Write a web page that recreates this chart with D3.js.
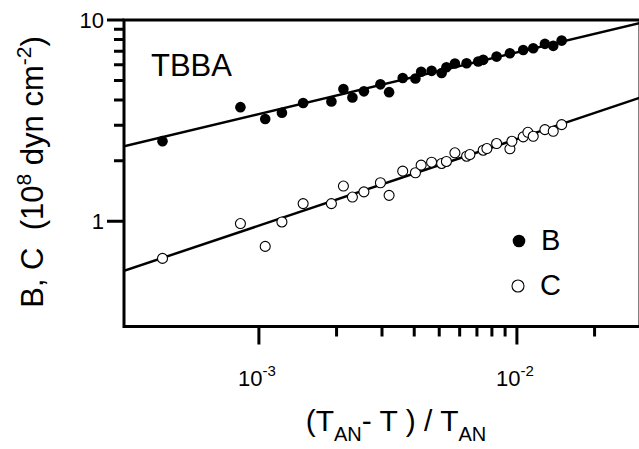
<!DOCTYPE html>
<html>
<head>
<meta charset="utf-8">
<script src="https://cdn.jsdelivr.net/npm/d3@7"></script>
<style>
  html, body { margin: 0; padding: 0; background: #fff; }
  svg { display: block; }
  text { font-family: "Liberation Sans", Arial, sans-serif; fill: #000; white-space: pre; }
</style>
</head>
<body>
<svg id="chart" width="639" height="449"></svg>
<script>
// ---- data ----
const reducedT = [4.23e-4, 8.48e-4, 1.058e-3, 1.228e-3, 1.484e-3, 1.910e-3, 2.126e-3, 2.304e-3, 2.553e-3, 2.958e-3,
                  3.196e-3, 3.609e-3, 4.043e-3, 4.254e-3, 4.670e-3, 5.108e-3, 5.331e-3, 5.750e-3, 6.383e-3, 7.079e-3,
                  7.402e-3, 8.343e-3, 9.395e-3, 1.058e-2, 1.157e-2, 1.284e-2, 1.383e-2, 1.491e-2];
const valuesB = [2.50, 3.69, 3.22, 3.46, 3.87, 3.94, 4.54, 4.12, 4.42, 4.79,
                 4.38, 5.15, 5.12, 5.53, 5.59, 5.45, 5.82, 6.08, 6.10, 6.22,
                 6.34, 6.58, 6.84, 7.10, 7.24, 7.61, 7.44, 7.90];
const reducedTC = [4.23e-4, 8.48e-4, 1.058e-3, 1.228e-3, 1.484e-3, 1.910e-3, 2.126e-3, 2.304e-3, 2.553e-3, 2.958e-3,
                   3.196e-3, 3.609e-3, 4.043e-3, 4.254e-3, 4.670e-3, 5.108e-3, 5.331e-3, 5.750e-3, 6.383e-3, 6.574e-3,
                   7.402e-3, 7.650e-3, 8.343e-3, 9.395e-3, 9.564e-3, 1.058e-2, 1.103e-2, 1.157e-2, 1.284e-2, 1.383e-2, 1.491e-2];
const valuesC = [0.654, 0.974, 0.750, 0.992, 1.224, 1.224, 1.496, 1.319, 1.400, 1.554,
                 1.345, 1.774, 1.742, 1.900, 1.966, 1.937, 1.982, 2.188, 2.105, 2.146,
                 2.254, 2.298, 2.433, 2.291, 2.497, 2.626, 2.767, 2.644, 2.853, 2.800, 3.021];
// fitted power-law lines, as [x, y] end points
const fitB = [[3e-4, 2.36], [3e-2, 9.66]];
const fitC = [[3e-4, 0.567], [3e-2, 4.11]];
const xMajorTicks = [1e-3, 1e-2];
const xMajorExp = ["-3", "-2"];
const xMinorTicks = [2e-3, 3e-3, 4e-3, 5e-3, 6e-3, 7e-3, 8e-3, 9e-3, 2e-2];
const yMajorTicks = [1, 10];
const yMajorLabels = ["1", "10"];
const yMinorTicks = [2, 3, 4, 5, 6, 7, 8, 9];
const seriesNames = ["B", "C"];

// ---- layout ----
const svg = d3.select("#chart");
const x = d3.scaleLog().domain([3e-4, 3e-2]).range([124, 640]);
const y = d3.scaleLog().domain([0.3, 10]).range([326.5, 20]);
const LW = 3;
const x0 = x.range()[0], yb = y.range()[0];

// frame
svg.append("rect")
  .attr("x", x0).attr("y", y.range()[1])
  .attr("width", x.range()[1] - x0)
  .attr("height", yb - y.range()[1])
  .attr("fill", "none").attr("stroke", "#000").attr("stroke-width", LW);

// ticks (drawn from the tick arrays through the scales)
const tickPath = [];
xMajorTicks.forEach(v => tickPath.push(`M${x(v)},${yb}V${yb + 18}`));
xMinorTicks.forEach(v => tickPath.push(`M${x(v)},${yb}V${yb + 10}`));
yMajorTicks.forEach(v => tickPath.push(`M${x0},${y(v)}H${x0 - 17}`));
yMinorTicks.forEach(v => tickPath.push(`M${x0},${y(v)}H${x0 - 10}`));
svg.append("path").attr("d", tickPath.join(""))
  .attr("fill", "none").attr("stroke", "#000").attr("stroke-width", LW);

// tick labels
xMajorTicks.forEach((v, i) => {
  const t = svg.append("text").attr("x", x(v) - 2).attr("y", 386)
    .attr("text-anchor", "middle").attr("font-size", 22);
  t.append("tspan").text("10");
  t.append("tspan").attr("dy", -10).attr("font-size", 15).text(xMajorExp[i]);
});
yMajorTicks.forEach((v, i) => {
  svg.append("text").attr("x", 104).attr("y", y(v) + 8)
    .attr("text-anchor", "end").attr("font-size", 22).text(yMajorLabels[i]);
});

// clip for lines
svg.append("clipPath").attr("id", "clip").append("rect")
  .attr("x", x0).attr("y", y.range()[1])
  .attr("width", x.range()[1] - x0)
  .attr("height", yb - y.range()[1]);

const line = d3.line().x(d => x(d[0])).y(d => y(d[1]));
[fitB, fitC].forEach(f => {
  svg.append("path").attr("d", line(f)).attr("clip-path", "url(#clip)")
    .attr("fill", "none").attr("stroke", "#000").attr("stroke-width", 2.5);
});

// points
svg.append("g").selectAll("circle").data(reducedT.map((t, i) => [t, valuesB[i]]))
  .join("circle").attr("cx", d => x(d[0])).attr("cy", d => y(d[1])).attr("r", 5.3)
  .attr("fill", "#000");
svg.append("g").selectAll("circle").data(reducedTC.map((t, i) => [t, valuesC[i]]))
  .join("circle").attr("cx", d => x(d[0])).attr("cy", d => y(d[1])).attr("r", 5)
  .attr("fill", "#fff").attr("stroke", "#000").attr("stroke-width", 1.1);

// label TBBA
svg.append("text").attr("x", 151).attr("y", 76).attr("font-size", 31).text("TBBA");

// legend
svg.append("circle").attr("cx", 519).attr("cy", 241).attr("r", 6.3).attr("fill", "#000");
svg.append("circle").attr("cx", 518).attr("cy", 286).attr("r", 6).attr("fill", "#fff")
  .attr("stroke", "#000").attr("stroke-width", 1.1);
svg.append("text").attr("x", 541).attr("y", 250).attr("font-size", 29).text(seriesNames[0]);
svg.append("text").attr("x", 540).attr("y", 295).attr("font-size", 29).text(seriesNames[1]);

// y-axis title
const yt = svg.append("text").attr("transform", "translate(43,172) rotate(-90)")
  .attr("text-anchor", "middle").attr("font-size", 31);
yt.append("tspan").text("B, C  (10");
yt.append("tspan").attr("dy", -12).attr("font-size", 21).text("8");
yt.append("tspan").attr("dy", 12).text(" dyn cm");
yt.append("tspan").attr("dy", -12).attr("font-size", 21).text("-2");
yt.append("tspan").attr("dy", 12).text(")");

// x-axis title
const xt = svg.append("text").attr("x", 396).attr("y", 431)
  .attr("text-anchor", "middle").attr("font-size", 30);
xt.append("tspan").text("(T");
xt.append("tspan").attr("dy", 10).attr("font-size", 20).text("AN");
xt.append("tspan").attr("dy", -10).text("- T ) / T");
xt.append("tspan").attr("dy", 10).attr("font-size", 20).text("AN");
</script>
</body>
</html>
